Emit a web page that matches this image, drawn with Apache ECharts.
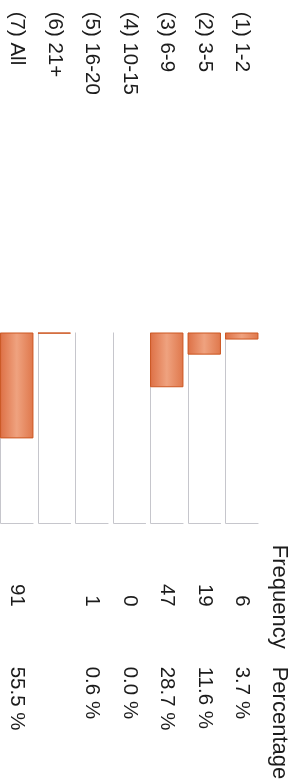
<!DOCTYPE html>
<html>
<head>
<meta charset="utf-8">
<title>Frequency table</title>
<script src="https://cdn.jsdelivr.net/npm/echarts@6/dist/echarts.min.js"></script>
<style>
  html, body { margin: 0; padding: 0; background: #fff; }
  #chart { width: 294px; height: 782px; }
</style>
</head>
<body>
<div id="chart"></div>
<script>
const categories = ['(1) 1-2', '(2) 3-5', '(3) 6-9', '(4) 10-15', '(5) 16-20', '(6) 21+', '(7) All'];
const frequency = [6, 19, 47, 0, 1, null, 91];
const percentage = [3.7, 11.6, 28.7, 0.0, 0.6, null, 55.5];
const barPercent = [3.7, 11.6, 28.7, 0, 0, 0.6, 55.5];
const headers = ['Frequency', 'Percentage'];

// the sheet is scanned sideways: rows run right to left, the last slot holds the headers
const order = categories.map((c, i) => i).reverse();
const BOX = 0.89;
const FONT = '"Liberation Sans", Arial, sans-serif';
const headStyle = { fontSize: 22, padding: [8, 0, 0, 0] };

const rowLabels = order.map(i => categories[i]).concat(['']);
const freqLabels = order.map(i => (frequency[i] == null ? '' : String(frequency[i])))
  .concat([{ value: headers[0], textStyle: Object.assign({}, headStyle, { align: 'center', padding: [8, 20, 0, 0] }) }]);
const pctLabels = order.map(i => (percentage[i] == null ? '' : percentage[i].toFixed(1) + ' %'))
  .concat([{ value: headers[1], textStyle: headStyle }]);
// empty rows get no outline, like on the sheet
const barData = order.map(i => (barPercent[i] > 0 ? barPercent[i] : { value: barPercent[i], itemStyle: { borderWidth: 0 } }))
  .concat(['-']);
const frameData = order.map((i, k) => [k]);

function textAxis(data, position, margin, align, rotate) {
  return {
    type: 'category',
    position: position,
    data: data,
    axisLine: { show: false, onZero: false },
    axisTick: { show: false },
    splitLine: { show: false },
    axisLabel: {
      interval: 0,
      hideOverlap: false,
      rotate: rotate,
      margin: margin,
      align: align,
      verticalAlign: 'middle',
      padding: [4, 0, 0, 0],
      fontSize: 20.5,
      fontFamily: FONT,
      color: '#1c1c1c',
    },
  };
}

const chart = echarts.init(document.getElementById('chart'));
chart.setOption({
  animation: false,
  grid: {
    left: -2,
    top: 332.5,
    width: 300,
    height: 190.8,
    containLabel: false,
    outerBoundsMode: 'none',
  },
  xAxis: [
    textAxis(rowLabels, 'top', 320.8, 'left', 90),
    textAxis(freqLabels, 'bottom', 83.4, 'right', -90),
    textAxis(pctLabels, 'bottom', 143.4, 'left', -90),
  ],
  yAxis: {
    type: 'value',
    min: 0,
    max: 100,
    inverse: true,
    show: false,
  },
  series: [
    {
      type: 'custom',
      xAxisIndex: 0,
      data: frameData,
      encode: { x: 0 },
      z: 1,
      renderItem: (params, api) => {
        const idx = api.value(0);
        const top = api.coord([idx, 0]);
        const bot = api.coord([idx, 100]);
        const w = api.size([1, 0])[0] * BOX;
        const xl = Math.round(top[0] - w / 2) + 0.5;
        const xr = top[0] + w / 2;
        const yb = Math.round(bot[1]) + 0.5;
        return {
          type: 'polyline',
          shape: { points: [[xl, top[1]], [xl, yb], [xr, yb]] },
          style: { stroke: '#c6c6cc', lineWidth: 1, fill: null },
        };
      },
    },
    {
      type: 'bar',
      xAxisIndex: 0,
      data: barData,
      barWidth: BOX * 100 + '%',
      z: 2,
      itemStyle: {
        color: {
          type: 'linear',
          x: 0, y: 0, x2: 1, y2: 0,
          colorStops: [
            { offset: 0, color: '#dd7045' },
            { offset: 0.5, color: '#efa27f' },
            { offset: 1, color: '#df774b' },
          ],
        },
        borderColor: '#cc5620',
        borderWidth: 1,
      },
    },
  ],
});
</script>
</body>
</html>
